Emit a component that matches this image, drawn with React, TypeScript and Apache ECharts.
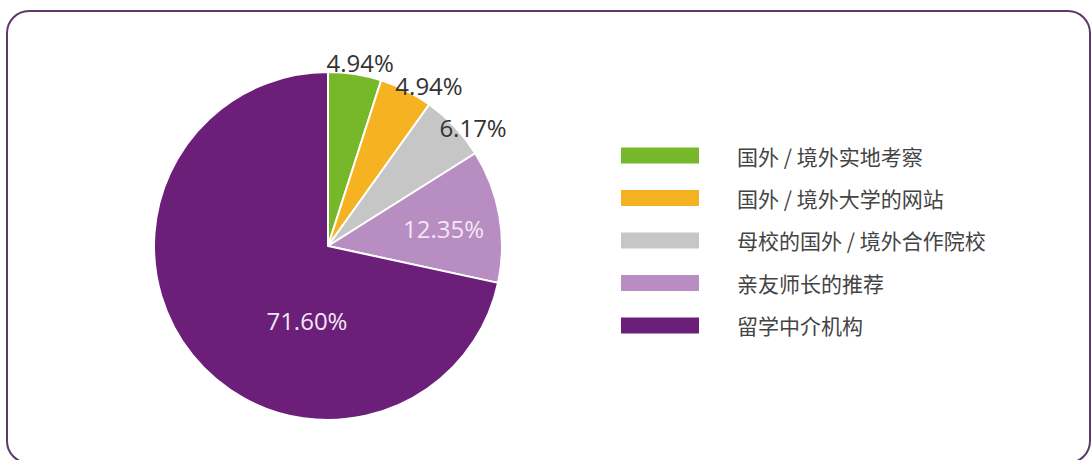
import React, { useEffect, useRef } from "react";
import * as echarts from "echarts";

const categories = [
  "国外 / 境外实地考察",
  "国外 / 境外大学的网站",
  "母校的国外 / 境外合作院校",
  "亲友师长的推荐",
  "留学中介机构",
];
const values = [4.94, 4.94, 6.17, 12.35, 71.6];
const colors = ["#77b82a", "#f6b321", "#c6c6c6", "#b88ec2", "#6b1f79"];

export default function App() {
  const ref = useRef<HTMLDivElement>(null);
  useEffect(() => {
    if (!ref.current) return;
    const chart = echarts.init(ref.current, undefined, { renderer: "svg" });
    const outsideLabel = {
      position: "outside",
      color: "#333",
      fontSize: 24,
      fontFamily: "Open Sans, Noto Sans, sans-serif",
    };
    const insideLabel = {
      position: "inside",
      color: "#f3e6f5",
      fontSize: 24,
      fontFamily: "Open Sans, Noto Sans, sans-serif",
    };
    const offsets: any[] = [[0, -10], [17, -3], [12, 2], [27, -2], [49, 18]];
    chart.setOption({
      animation: false,
      backgroundColor: "#fff",
      graphic: [
        {
          type: "rect",
          shape: { x: 7, y: 11, width: 1083, height: 452, r: 22 },
          style: { fill: "none", stroke: "#5e3a6b", lineWidth: 2 },
        },
      ],
      legend: {
        orient: "vertical",
        left: 614,
        top: 140,
        itemWidth: 80,
        itemHeight: 18,
        itemGap: 21.5,
        icon: "rect",
        data: categories,
        textStyle: {
          color: "#444",
          fontSize: 21,
          padding: [0, 0, 0, 32],
          fontFamily: "Noto Sans CJK SC, sans-serif",
        },
      },
      series: [
        {
          type: "pie",
          center: [328, 246],
          radius: 174,
          startAngle: 90,
          clockwise: true,
          avoidLabelOverlap: false,
          itemStyle: { borderColor: "#fff", borderWidth: 2 },
          labelLine: { show: false, length: 2, length2: 0 },
          label: { formatter: (p: any) => p.value.toFixed(2) + "%" },
          labelLayout: (p: any) =>
            p.dataIndex < 3 ? { align: "center", verticalAlign: "middle" } : {},
          data: categories.map((name, i) => ({
            name,
            value: values[i],
            itemStyle: { color: colors[i] },
            label: { ...(i < 3 ? outsideLabel : insideLabel), offset: offsets[i] },
          })),
        },
      ],
    });
    return () => chart.dispose();
  }, []);
  return (
    <div
      ref={ref}
      style={{ position: "fixed", left: 0, top: 0, width: 1092, height: 460 }}
    />
  );
}
